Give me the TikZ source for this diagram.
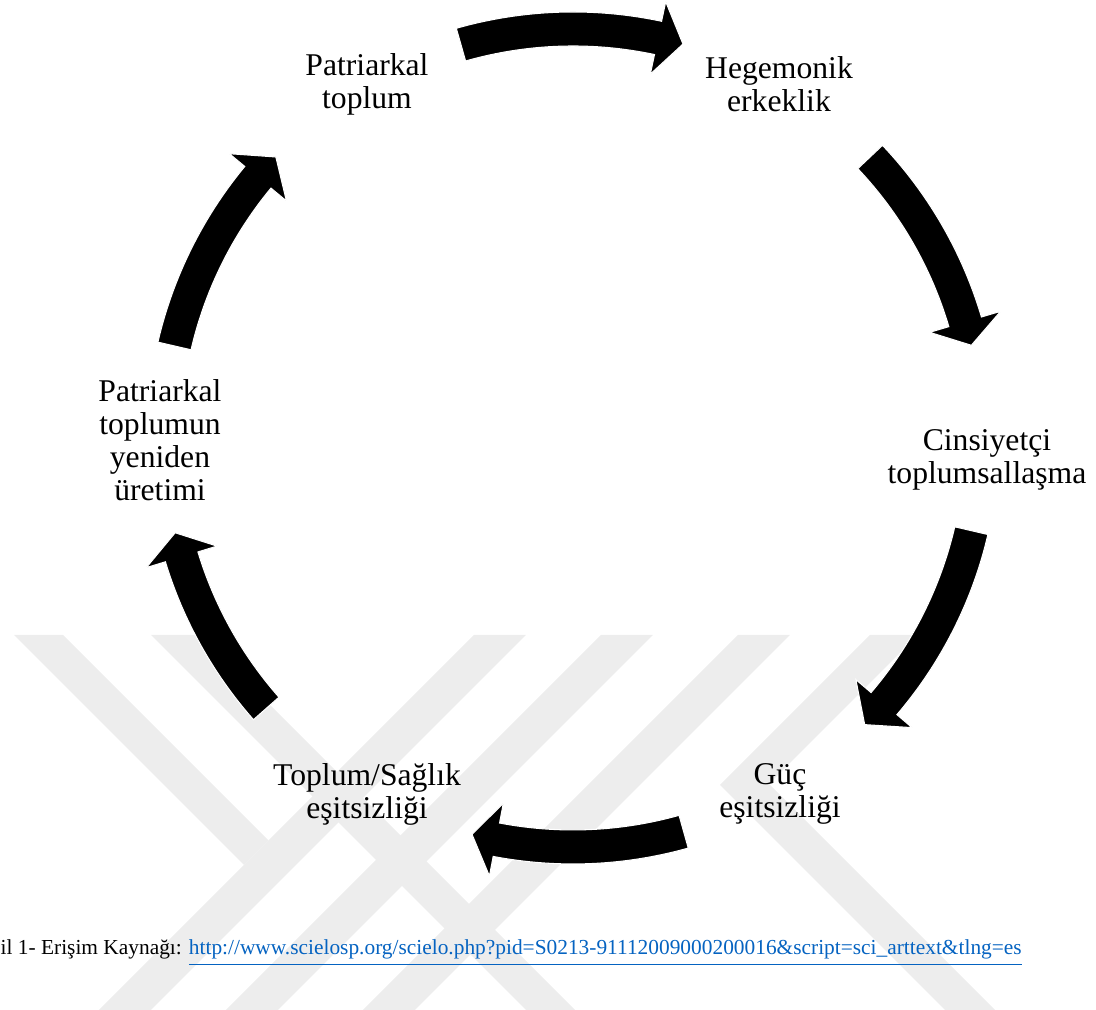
\documentclass[tikz,border=0pt]{standalone}
\usepackage{fontspec}
\setmainfont{Liberation Serif}
\definecolor{linkblue}{HTML}{0563C1}
\definecolor{wmgray}{HTML}{EDEDED}
\newcommand{\cycarrow}[3]{%
  \fill[black,draw=white,line width=0.3pt] (#1:426) arc[start angle=#1, end angle=#2, radius=426]
    -- (#2:446) -- (#3:409) -- (#2:372) -- (#2:392)
    arc[start angle=#2, end angle=#1, radius=392] -- cycle;}
\begin{document}
\begin{tikzpicture}[x=0.01cm,y=0.01cm,
  lbl/.style={align=center,font=\fontsize{9}{9.4}\selectfont,inner sep=0pt},
  wmark/.style={fill=wmgray,draw=none}]
\useasboundingbox (0,0) rectangle (1096,1010);
% watermark bands
\fill[wmark] (14,375) -- (63,375) -- (268.5,169.5) -- (244,145) -- cycle;
\fill[wmark] (474,375) -- (526,375) -- (151,0) -- (99,0) -- cycle;
\fill[wmark] (151,375) -- (200,375) -- (575,0) -- (526,0) -- cycle;
\fill[wmark] (601,375) -- (653,375) -- (278,0) -- (226,0) -- cycle;
\fill[wmark] (738,375) -- (790,375) -- (415,0) -- (363,0) -- cycle;
\fill[wmark] (870,375) -- (918,375) -- (769,226) -- (995,0) -- (945,0) -- (720,225) -- cycle;
% cycle arrows
\begin{scope}[shift={(573,572)}]
  \cycarrow{105.9}{78}{74.4}
  \cycarrow{43.4}{16.5}{13.1}
  \cycarrow{-13.1}{-40.5}{-44.5}
  \cycarrow{-74.3}{-100.8}{-104.3}
  \cycarrow{221.4}{196.9}{193.4}
  \cycarrow{167}{140.4}{136.6}
\end{scope}
% labels
\node[lbl] (pt) at (367,926) {Patriarkal\\toplum};
\node[lbl] (he) at (779,926) {Hegemonik\\erkeklik};
\node[lbl] (ct) at (987,550) {Cinsiyetçi\\toplumsallaşma};
\node[lbl] (ge) at (780,216) {Güç\\eşitsizliği};
\node[lbl] (ts) at (367,216) {Toplum/Sağlık\\eşitsizliği};
\node[lbl] (py) at (160,570) {Patriarkal\\toplumun\\yeniden\\üretimi};
% caption
\node[anchor=base west,inner sep=0pt,font=\fontsize{6.08}{7}\selectfont] (cap) at (0,55)
  {il 1- Erişim Kaynağı: \textcolor{linkblue}{\underline{http://www.scielosp.org/scielo.php?pid=S0213-91112009000200016\&script=sci\_arttext\&tlng=es}}};
\end{tikzpicture}
\end{document}
